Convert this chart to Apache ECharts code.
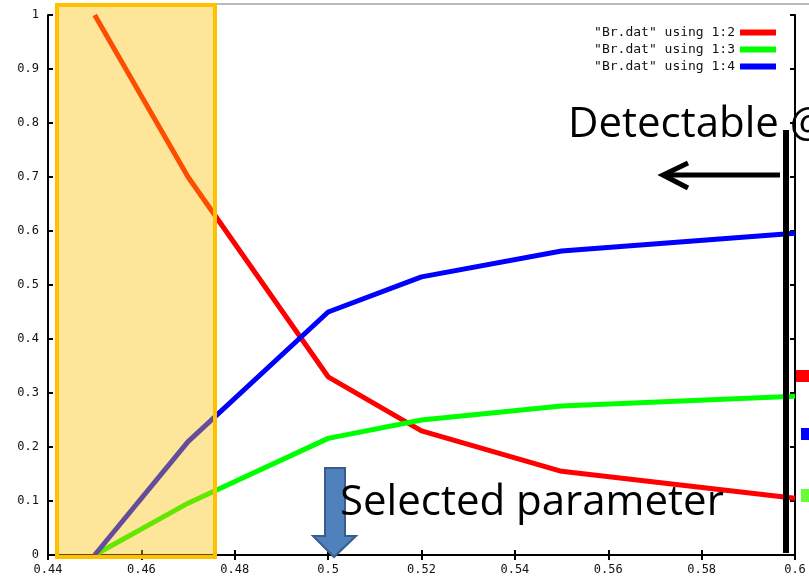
<!DOCTYPE html>
<html>
<head>
<meta charset="utf-8">
<script src="https://cdn.jsdelivr.net/npm/echarts@6/dist/echarts.min.js"></script>
<style>
  html, body { margin: 0; padding: 0; background: #fff; }
  #chart { width: 809px; height: 582px; }
</style>
</head>
<body>
<div id="chart"></div>
<script>
// x values (column 1 of Br.dat)
var xValues = [0.45, 0.47, 0.5, 0.52, 0.55, 0.6];
// columns 2, 3, 4
var col2 = [1.0, 0.70, 0.33, 0.23, 0.155, 0.105];
var col3 = [0.0, 0.096, 0.216, 0.25, 0.276, 0.294];
var col4 = [0.0, 0.21, 0.45, 0.515, 0.563, 0.596];
var seriesNames = ['"Br.dat" using 1:2', '"Br.dat" using 1:3', '"Br.dat" using 1:4'];

function pairs(ys) {
  return xValues.map(function (x, i) { return [x, ys[i]]; });
}

var myChart = echarts.init(document.getElementById("chart"));
var tickFont = { color: "#111", fontFamily: "DejaVu Sans Mono", fontSize: 12 };
var lineAxis = { lineStyle: { color: "#000", width: 2 } };

var option = {
  animation: false,
  color: ["#ff0000", "#00ff00", "#0000ff"],
  grid: { left: 48, right: 14, top: 15, bottom: 27 },
  legend: {
    orient: "vertical",
    right: 28,
    top: 21,
    align: "right",
    icon: "rect",
    itemWidth: 36,
    itemHeight: 6,
    itemGap: 4,
    textStyle: { color: "#111", fontFamily: "DejaVu Sans Mono", fontSize: 13 },
    data: seriesNames
  },
  xAxis: [
    {
      type: "value",
      min: 0.44,
      max: 0.6,
      interval: 0.02,
      splitLine: { show: false },
      axisLine: lineAxis,
      axisTick: { inside: true, length: 5, lineStyle: { color: "#000", width: 2 } },
      axisLabel: Object.assign({ margin: 9, showMaxLabel: true }, tickFont)
    },
    {
      type: "value",
      position: "top",
      min: 0.44,
      max: 0.6,
      interval: 0.02,
      splitLine: { show: false },
      axisLine: lineAxis,
      axisTick: { inside: true, length: 5, lineStyle: { color: "#000", width: 2 } },
      axisLabel: { show: false }
    }
  ],
  yAxis: [
    {
      type: "value",
      min: 0,
      max: 1,
      interval: 0.1,
      splitLine: { show: false },
      axisLine: { show: true, lineStyle: { color: "#000", width: 2 } },
      axisTick: { show: true, inside: true, length: 5, lineStyle: { color: "#000", width: 2 } },
      axisLabel: Object.assign({ margin: 9 }, tickFont)
    },
    {
      type: "value",
      position: "right",
      min: 0,
      max: 1,
      interval: 0.1,
      splitLine: { show: false },
      axisLine: { show: true, lineStyle: { color: "#000", width: 2 } },
      axisTick: { show: true, inside: true, length: 5, lineStyle: { color: "#000", width: 2 } },
      axisLabel: { show: false }
    }
  ],
  series: [
    { name: seriesNames[0], type: "line", data: pairs(col2), symbol: "none", lineStyle: { width: 5 } },
    { name: seriesNames[1], type: "line", data: pairs(col3), symbol: "none", lineStyle: { width: 5 } },
    { name: seriesNames[2], type: "line", data: pairs(col4), symbol: "none", lineStyle: { width: 5 } }
  ],
  graphic: [
    // slide frame line
    { type: "line", z: 1, shape: { x1: 215, y1: 4, x2: 809, y2: 4 }, style: { stroke: "#777", lineWidth: 1 } },
    // highlighted region
    {
      type: "rect", z: 100,
      shape: { x: 57, y: 5, width: 158, height: 552 },
      style: { fill: "rgba(251,192,0,0.4)", stroke: "#ffc000", lineWidth: 4 }
    },
    // selected parameter arrow
    {
      type: "polygon", z: 100,
      shape: { points: [[325, 468], [345, 468], [345, 536], [356, 536], [334, 557], [313, 536], [325, 536]] },
      style: { fill: "#4f81bd", stroke: "#385d8a", lineWidth: 2 }
    },
    {
      type: "text", z: 101, left: 340, top: 482,
      style: { text: "Selected parameter", fill: "#000", font: "42px 'Open Sans'" }
    },
    {
      type: "text", z: 101, left: 568, top: 104,
      style: { text: "Detectable @", fill: "#000", font: "42px 'Open Sans'" }
    },
    // left arrow
    { type: "line", z: 102, shape: { x1: 664, y1: 175, x2: 780, y2: 175 }, style: { stroke: "#000", lineWidth: 5 } },
    { type: "polyline", z: 102, shape: { points: [[688, 163], [663, 175], [688, 188]] }, style: { stroke: "#000", lineWidth: 5, fill: null } },
    // vertical bar
    { type: "rect", z: 102, shape: { x: 783, y: 130, width: 6, height: 423 }, style: { fill: "#000" } },
    // cut-off legend swatches at the right edge
    { type: "rect", z: 102, shape: { x: 796, y: 370, width: 13, height: 12 }, style: { fill: "#ff0000" } },
    { type: "rect", z: 102, shape: { x: 801, y: 428, width: 8, height: 12 }, style: { fill: "#0000ff" } },
    { type: "rect", z: 102, shape: { x: 801, y: 489, width: 8, height: 13 }, style: { fill: "#66ff33" } }
  ]
};
myChart.setOption(option);
</script>
</body>
</html>
